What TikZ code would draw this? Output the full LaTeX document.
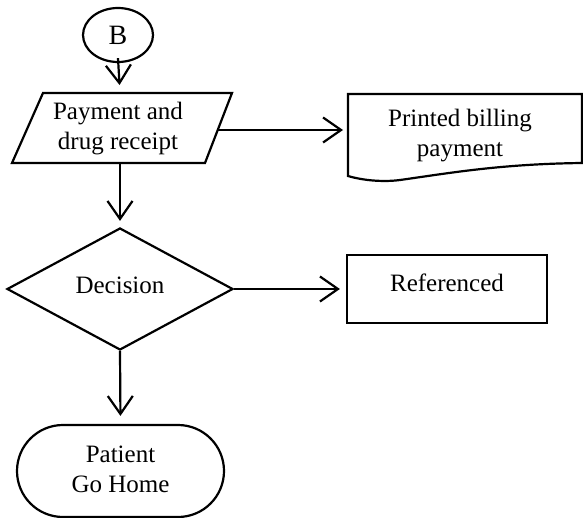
\documentclass[tikz,border=0pt]{standalone}
\usepackage{fontspec}
\setmainfont{Liberation Serif}
\usetikzlibrary{arrows.meta,shapes.geometric,shapes.misc}
\begin{document}
\begin{tikzpicture}[x=0.5pt,y=-0.5pt,
  line width=1.1pt,
  every node/.style={font=\fontsize{12.5}{15}\selectfont, align=center, inner sep=0pt},
  box/.style={draw, line width=1.1pt},
  flow/.style={-{Straight Barb[length=9pt,width=12.5pt,line width=1.1pt]}, shorten >=3pt},
]
\useasboundingbox (0,0) rectangle (583,518);

% connector symbol
\node[box, ellipse, minimum width=35pt, minimum height=27pt,
  font=\fontsize{14}{16}\selectfont] (B) at (118,35) {B};

% input/output: payment
\draw (43,93) -- (232,93) -- (205,163) -- (12,163) -- cycle;
\coordinate (Ptop) at (120,93);
\coordinate (Pbot) at (120,163);
\coordinate (Pright) at (218,130);
\node (P) at (118,129) {Payment and\\drug receipt};

% document: printed billing
\draw (348,94) -- (582,94) -- (582,163)
  .. controls (500,164) and (450,173) .. (400,180)
  .. controls (385,182) and (365,181) .. (348,176) -- cycle;
\coordinate (Dleft) at (348,130);
\node (Doc) at (460,136) {Printed billing\\payment};

% decision
\node[box, diamond, minimum width=113pt, minimum height=61pt,
  label={[yshift=2pt]center:Decision}] (D) at (120,289) {};

% process: referenced
\node[box, rectangle, minimum width=100pt, minimum height=34pt,
  label={[yshift=3pt]center:Referenced}] (R) at (447,289) {};

% terminator
\node[box, rounded rectangle, minimum width=103.5pt, minimum height=46pt,
  label={[yshift=0.8pt]center:Patient\\Go Home}] (T) at (120.5,471) {};

% flow lines
\draw[flow, shorten >=4pt] ([yshift=2.5pt]B.south) -- (Ptop);
\draw[flow, shorten >=2.5pt] (Pright) -- (Dleft);
\draw[flow] (Pbot) -- (D.north);
\draw[flow] (D.east) -- (R.west);
\draw[flow, shorten >=4pt] (D.south) -- (T.north);
\end{tikzpicture}
\end{document}
